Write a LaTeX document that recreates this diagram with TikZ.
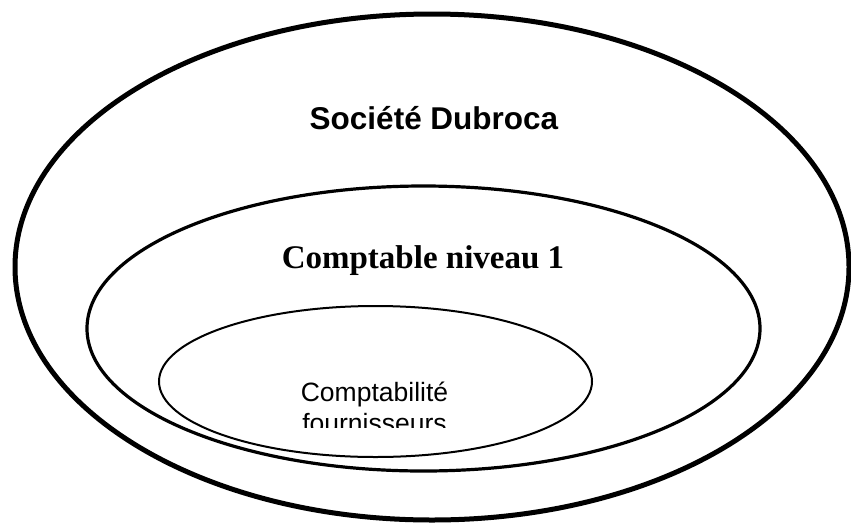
\documentclass[tikz,border=0pt]{standalone}
\usepackage{fontspec}
\setmainfont{Liberation Serif}
\setsansfont{Liberation Sans}
\usepackage{tikz}

\begin{document}
\begin{tikzpicture}[x=1pt, y=-1pt]
  \useasboundingbox (0,0) rectangle (851,523);

  \draw[line width=5pt] (432,267) ellipse [x radius=417, y radius=253];
  \draw[line width=3.2pt] (423.5,328.5) ellipse [x radius=336.5, y radius=142.5];
  \draw[line width=2pt] (375.5,381.5) ellipse [x radius=216.5, y radius=75.5];

  \node[anchor=base, font=\sffamily\bfseries\fontsize{31.5}{36}\selectfont] (societe) at (434,129) {Société Dubroca};
  \node[anchor=base, font=\rmfamily\bfseries\fontsize{33}{38}\selectfont] (comptable) at (423,268) {Comptable niveau 1};

  \begin{scope}
    \clip (150,370) rectangle (600,427);
    \node[anchor=base, font=\sffamily\fontsize{26.5}{31}\selectfont] (compta) at (374.5,401) {Comptabilité};
    \node[anchor=base, font=\sffamily\fontsize{26.5}{31}\selectfont] (fourn) at (374.5,432) {fournisseurs};
  \end{scope}
\end{tikzpicture}
\end{document}
